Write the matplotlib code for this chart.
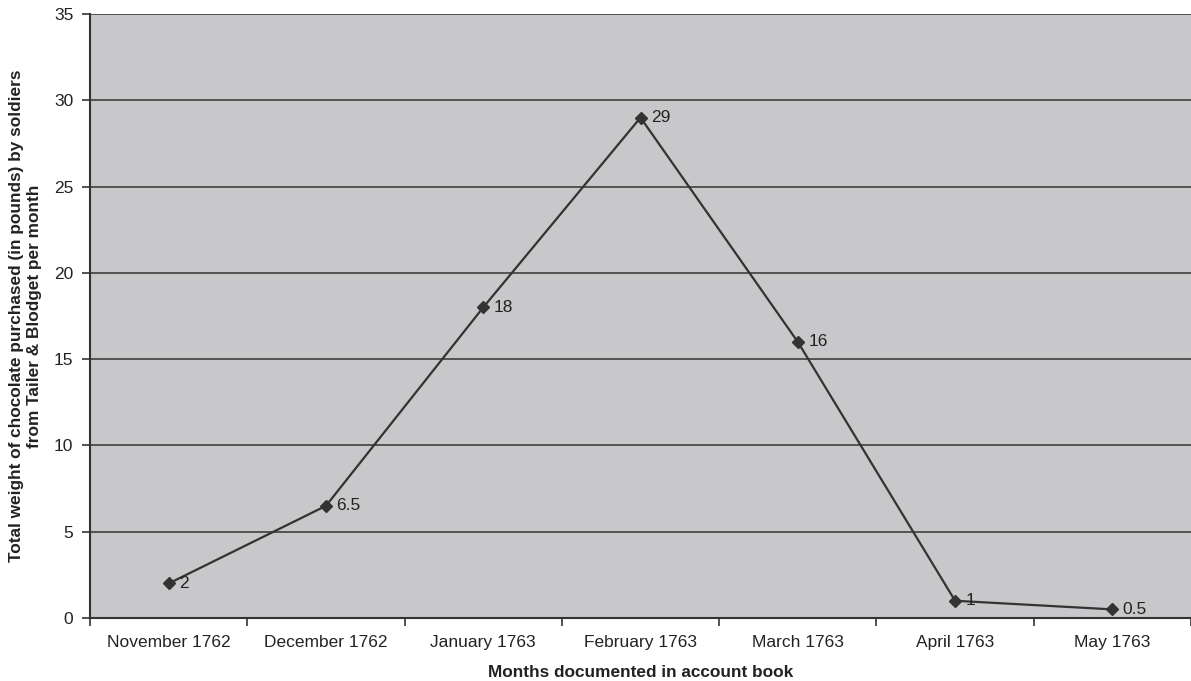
import matplotlib.pyplot as plt
import numpy as np

plt.rcParams['font.family'] = ['Liberation Sans', 'DejaVu Sans']

months = ['November 1762', 'December 1762', 'January 1763', 'February 1763',
          'March 1763', 'April 1763', 'May 1763']
pounds = [2, 6.5, 18, 29, 16, 1, 0.5]
point_labels = ['2', '6.5', '18', '29', '16', '1', '0.5']

fig = plt.figure(figsize=(11.91, 6.81), dpi=100)
ax = fig.add_axes([0.0756, 0.0925, 0.9244, 0.8869])
ax.set_facecolor('#c8c8ca')

x = np.arange(len(months))
ax.plot(x, pounds, color='#333333', lw=1.6, marker='D', markersize=6,
        markerfacecolor='#333333', markeredgecolor='#333333', zorder=3)
for xi, yi, lab in zip(x, pounds, point_labels):
    ax.annotate(lab, (xi, yi), xytext=(7.5, 0), textcoords='offset points',
                va='center', ha='left', fontsize=12.5, color='#222222')

ax.set_xlim(-0.5, len(months) - 0.5)
ax.set_ylim(0, 35)
ax.set_yticks(range(0, 36, 5))
ax.yaxis.grid(True, color='#333333', lw=1.1)
ax.set_axisbelow(True)

# category labels centred, tick marks between them
ax.set_xticks(np.arange(-0.5, len(months)), minor=False)
ax.set_xticklabels([])
ax.set_xticks(x, minor=True)
ax.set_xticklabels(months, minor=True)
ax.tick_params(axis='x', which='minor', length=0, pad=12, labelsize=12.5, labelcolor='#222222')
ax.tick_params(axis='x', which='major', length=6, width=1.2, color='#333333')
ax.tick_params(axis='y', length=6, width=1.2, color='#333333', labelsize=12.5, labelcolor='#222222', pad=6)

for s in ['top', 'right']:
    ax.spines[s].set_visible(False)
for s in ['left', 'bottom']:
    ax.spines[s].set_color('#333333')
    ax.spines[s].set_linewidth(1.5)

ax.set_xlabel('Months documented in account book', fontweight='bold', fontsize=12.4,
              labelpad=11, color='#222222')
fig.text(0.0215, 0.536,
         'Total weight of chocolate purchased (in pounds) by soldiers\nfrom Tailer & Blodget per month',
         rotation=90, ha='center', va='center', multialignment='center',
         fontweight='bold', fontsize=12.4, color='#222222', linespacing=1.3)

fig.savefig('out.png', dpi=100)
